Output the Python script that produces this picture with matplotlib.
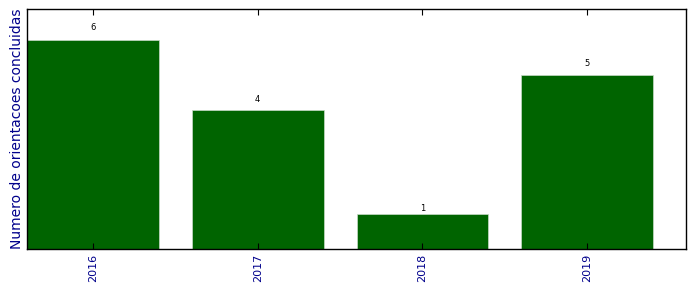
import matplotlib
matplotlib.use('Agg')
import matplotlib.pyplot as plt
import numpy as np

years = ['2016', '2017', '2018', '2019']
orientacoes = [6, 4, 1, 5]

fig = plt.figure(figsize=(6.96, 2.92), dpi=100)
ax = fig.add_axes([27/696, 1 - 249/292, 659/696, 240/292])

x = np.arange(len(years))
rects = ax.bar(x, orientacoes, width=0.8, color='darkgreen', edgecolor='#c8dcc8', linewidth=0.5)

for rect in rects:
    height = rect.get_height()
    ax.text(rect.get_x() + rect.get_width() / 2., 1.04 * height, '%d' % int(height),
            ha='center', va='bottom', fontsize=6)

ax.set_xlim(-0.4, 3.6)
ax.set_ylim(0, max(orientacoes) * 1.15)
ax.set_xticks(x)
ax.set_xticklabels(years, rotation=90, color='darkblue', fontsize=8)
ax.set_yticks([])
ax.tick_params(axis='x', direction='in', top=True, length=4, width=0.8)
ax.set_ylabel('Numero de orientacoes concluidas', color='darkblue', fontsize=10, labelpad=2)
for s in ax.spines.values():
    s.set_linewidth(1.0)

fig.savefig('out.png', dpi=100)
